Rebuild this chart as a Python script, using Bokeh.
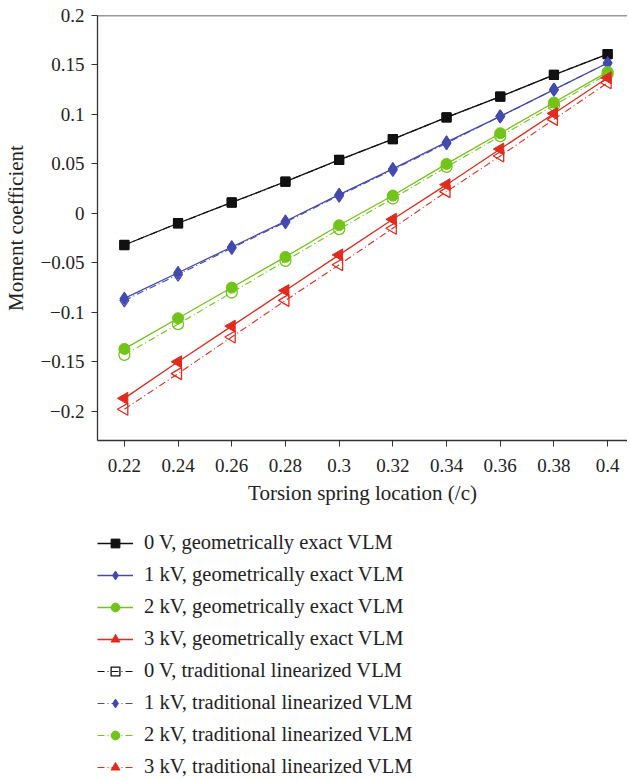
import numpy as np
from bokeh.plotting import figure
from bokeh.layouts import column
from bokeh.models import (Range1d, FixedTicker, CustomJSTickFormatter, Span,
                          Legend, LegendItem, ColumnDataSource)
from bokeh.embed import file_html
from bokeh.resources import INLINE

x = [0.22, 0.24, 0.26, 0.28, 0.30, 0.32, 0.34, 0.36, 0.38, 0.40]
v0_exact = [-0.032, -0.010, 0.011, 0.032, 0.054, 0.075, 0.097, 0.118, 0.140, 0.161]
v0_trad = [-0.032, -0.010, 0.011, 0.032, 0.054, 0.075, 0.097, 0.118, 0.140, 0.161]
v1_exact = [-0.086, -0.060, -0.034, -0.008, 0.019, 0.045, 0.072, 0.098, 0.125, 0.152]
v1_trad = [-0.088, -0.062, -0.035, -0.009, 0.018, 0.044, 0.071, 0.098, 0.125, 0.152]
v2_exact = [-0.137, -0.106, -0.075, -0.044, -0.012, 0.018, 0.050, 0.081, 0.112, 0.143]
v2_trad = [-0.143, -0.112, -0.080, -0.048, -0.016, 0.015, 0.047, 0.078, 0.109, 0.141]
v3_exact = [-0.187, -0.150, -0.114, -0.078, -0.042, -0.006, 0.029, 0.065, 0.101, 0.137]
v3_trad = [-0.198, -0.162, -0.125, -0.088, -0.052, -0.015, 0.022, 0.058, 0.095, 0.132]

labels_exact = ["0 V, geometrically exact VLM", "1 kV, geometrically exact VLM",
                "2 kV, geometrically exact VLM", "3 kV, geometrically exact VLM"]
labels_trad = ["0 V, traditional linearized VLM", "1 kV, traditional linearized VLM",
               "2 kV, traditional linearized VLM", "3 kV, traditional linearized VLM"]
x_ticks = [0.22, 0.24, 0.26, 0.28, 0.30, 0.32, 0.34, 0.36, 0.38, 0.40]
y_ticks = [-0.2, -0.15, -0.1, -0.05, 0, 0.05, 0.1, 0.15, 0.2]

colors = ["#111111", "#4349ad", "#72c419", "#e02b1d"]
markers = ["square", "diamond", "circle", "triangle"]
angles = [0, 0, 0, np.pi / 2]
sizes = [9, 13, 11, 12]

FONT = "Liberation Serif"

p = figure(frame_width=530, frame_height=425, output_backend="svg", toolbar_location=None,
           x_range=Range1d(0.21, 0.4074), y_range=Range1d(-0.2296, 0.2),
           min_border_left=90, min_border_top=15, min_border_right=0,
           min_border_bottom=80)
p.outline_line_color = None
p.grid.visible = False
p.background_fill_color = "white"

fmt = CustomJSTickFormatter(code="""
const a = Number(Math.abs(tick).toFixed(3)).toString();
return (tick < -1e-9 ? "\u2212" : "") + a;
""")
for ax in (p.xaxis[0], p.yaxis[0]):
    ax.formatter = fmt
    ax.major_label_text_font = FONT
    ax.major_label_text_font_size = "19px"
    ax.major_label_text_color = "#222222"
    ax.axis_label_text_font = FONT
    ax.axis_label_text_font_size = "21px"
    ax.axis_label_text_font_style = "normal"
    ax.axis_label_text_color = "#222222"
    ax.minor_tick_line_color = None
    ax.major_tick_out = 6
    ax.major_tick_in = 0
    ax.axis_line_color = "#333333"
    ax.major_tick_line_color = "#333333"
    ax.axis_line_width = 1.3
p.xaxis.ticker = FixedTicker(ticks=x_ticks)
p.yaxis.ticker = FixedTicker(ticks=y_ticks)
p.xaxis.axis_label = "Torsion spring location (/c)"
p.yaxis.axis_label = "Moment coefficient"
p.xaxis.major_label_standoff = 12
p.yaxis.major_label_standoff = 7
p.xaxis.axis_label_standoff = 6
p.yaxis.axis_label_standoff = 10

p.add_layout(Span(location=0.2, dimension="width", line_color="#333333", line_width=1.3))

# legend panel (separate figure below the plot)
item_h = 22
gap = 9
pad = 4
q = figure(width=620, height=258, output_backend="svg", toolbar_location=None,
           x_range=Range1d(0, 1), y_range=Range1d(0, 1),
           x_axis_type=None, y_axis_type=None,
           min_border_left=95, min_border_top=11, min_border_right=0, min_border_bottom=0)
q.outline_line_color = None
q.grid.visible = False

exact = [v0_exact, v1_exact, v2_exact, v3_exact]
trad = [v0_trad, v1_trad, v2_trad, v3_trad]

items_exact = []
items_trad = []
for i in range(4):
    src_t = ColumnDataSource(dict(x=x, y=trad[i]))
    p.line("x", "y", source=src_t, line_color=colors[i], line_width=1.1, line_dash="7 3 1 3")
    p.scatter("x", "y", source=src_t, marker=markers[i], size=sizes[i], angle=angles[i],
              fill_color="white", fill_alpha=0.0, line_color=colors[i], line_width=1.3)
    kl = q.line("x", "y", source=src_t, line_color=colors[i], line_width=1.1,
                line_dash="7 3 1 3", visible=False)
    if i == 0:
        ks = q.scatter("x", "y", source=src_t, marker=markers[i], size=sizes[i],
                       fill_color="white", fill_alpha=0.0, line_color=colors[i],
                       line_width=1.3, visible=False)
    else:
        ks = q.scatter("x", "y", source=src_t, marker=markers[i], size=sizes[i],
                       fill_color=colors[i], line_color=colors[i], visible=False)
    items_trad.append(LegendItem(label=labels_trad[i], renderers=[kl, ks]))

for i in range(4):
    src_e = ColumnDataSource(dict(x=x, y=exact[i]))
    p.line("x", "y", source=src_e, line_color=colors[i], line_width=1.3)
    p.scatter("x", "y", source=src_e, marker=markers[i], size=sizes[i], angle=angles[i],
              fill_color=colors[i], line_color=colors[i])
    kl = q.line("x", "y", source=src_e, line_color=colors[i], line_width=1.3, visible=False)
    ks = q.scatter("x", "y", source=src_e, marker=markers[i], size=sizes[i],
                   fill_color=colors[i], line_color=colors[i], visible=False)
    items_exact.append(LegendItem(label=labels_exact[i], renderers=[kl, ks]))

legend = Legend(items=items_exact + items_trad, location="top_left",
                orientation="vertical",
                label_text_font=FONT, label_text_font_size="20.5px", label_text_color="#222222",
                glyph_width=36, glyph_height=item_h, label_height=item_h, spacing=gap,
                label_standoff=11, padding=pad, margin=0, border_line_color=None,
                background_fill_alpha=0, inactive_fill_alpha=0)
q.add_layout(legend, "center")

layout = column(p, q, spacing=0)
open("out.html", "w").write(file_html(layout, INLINE))
